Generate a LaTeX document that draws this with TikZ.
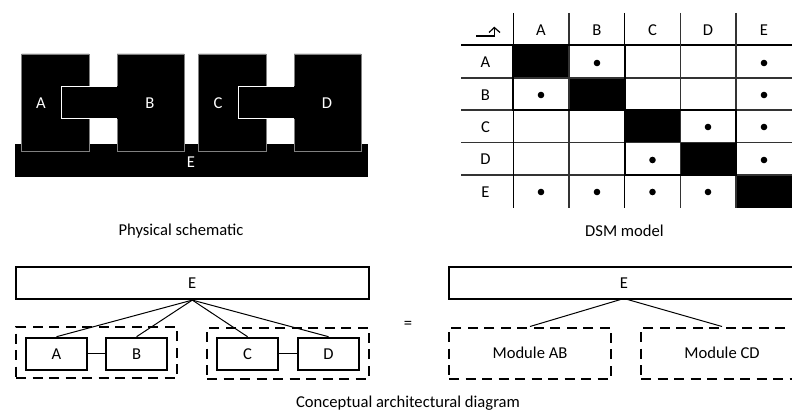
\documentclass[tikz,border=0pt]{standalone}
\usepackage{fontspec}
\setmainfont{Carlito}
\tikzset{
  txt/.style={inner sep=0pt,font=\fontsize{16.6}{19}\selectfont},
  box/.style={draw=black,line width=2.1pt,fill=white,minimum height=32pt,inner sep=0pt,font=\fontsize{16.6}{19}\selectfont,anchor=north west},
  link/.style={draw=black,line width=1pt},
  group/.style={draw=black,line width=2pt,dash pattern=on 10pt off 6.5pt,inner sep=0pt,font=\fontsize{16.6}{19}\selectfont,anchor=north west},
  edgeg/.style={draw=black!50,line width=.9pt},
  edgew/.style={draw=white,line width=.9pt},
  grid1/.style={draw=black!80,line width=1.2pt},
  grid2/.style={draw=black,line width=1.5pt},
  heavy/.style={draw=black,line width=2pt},
  captext/.style={txt},
}
\begin{document}
\begin{tikzpicture}[x=1pt,y=-1pt]
\useasboundingbox (0,0) rectangle (792,412);
% Physical schematic
\fill[black] (14.5,144) rectangle (368,177);
\fill[black] (21.5,54) -- (89,54) -- (89,86) -- (61.5,86) -- (61.5,118.5) -- (89,118.5) -- (89,151) -- (21.5,151) -- cycle;
\fill[black] (117,54) -- (184,54) -- (184,151) -- (117,151) -- (117,118.5) -- (61.5,118.5) -- (61.5,86) -- (117,86) -- cycle;
\fill[black] (198.5,54) -- (266,54) -- (266,86) -- (238.5,86) -- (238.5,118.5) -- (266,118.5) -- (266,151) -- (198.5,151) -- cycle;
\fill[black] (294,54) -- (361,54) -- (361,151) -- (294,151) -- (294,118.5) -- (238.5,118.5) -- (238.5,86) -- (294,86) -- cycle;
\draw[edgeg] (89,86) -- (89,54) -- (21.5,54) -- (21.5,151) -- (89,151) -- (89,118.5);
\draw[edgew] (89,86) -- (61.5,86) -- (61.5,118.5) -- (89,118.5);
\draw[edgew] (89,86) -- (117,86);
\draw[edgew] (89,118.5) -- (117,118.5);
\draw[edgeg] (117,86) -- (117,54) -- (184,54) -- (184,151) -- (117,151) -- (117,118.5);
\draw[edgeg] (266,86) -- (266,54) -- (198.5,54) -- (198.5,151) -- (266,151) -- (266,118.5);
\draw[edgew] (266,86) -- (238.5,86) -- (238.5,118.5) -- (266,118.5);
\draw[edgew] (266,86) -- (294,86);
\draw[edgew] (266,118.5) -- (294,118.5);
\draw[edgeg] (294,86) -- (294,54) -- (361,54) -- (361,151) -- (294,151) -- (294,118.5);
\node[txt,text=white] (pA) at (41,103) {A};
\node[txt,text=white] (pB) at (150,103) {B};
\node[txt,text=white] (pC) at (218,103) {C};
\node[txt,text=white] (pD) at (327,103) {D};
\node[txt,text=white] (pE) at (191,162.5) {E};
\node[captext] (capP) at (181,231) {Physical schematic};
% DSM
\fill[black] (513.3,45) rectangle (569,78);
\fill[black] (569,78) rectangle (624.7,110);
\fill[black] (624.7,110) rectangle (680.3,142.7);
\fill[black] (680.3,142.7) rectangle (736,175);
\fill[black] (736,175) rectangle (792,207.5);
\foreach \y in {78,110,142.7,175} \draw[grid1] (461,\y) -- (792,\y);
\draw[grid2] (461,45) -- (792,45);
\foreach \x in {569,680.3,736} \draw[grid1] (\x,13) -- (\x,207.5);
\foreach \x in {513.3,624.7} \draw[grid2] (\x,13) -- (\x,207.5);
\draw[heavy] (513.3,45) rectangle (624.7,110);
\draw[heavy] (624.7,110) rectangle (736,175);
\foreach \n/\x in {A/541,B/597,C/652.5,D/708,E/764}
  \node[txt] (col\n) at (\x,30) {\n};
\foreach \n/\y in {A/62,B/95,C/127,D/159.5,E/192}
  \node[txt] (row\n) at (485.5,\y) {\n};
\foreach \x/\y in {597/63,764/63,541/95,764/95,708/127,764/127,652.5/160,764/160,541/192,597/192,652.5/192,708/192}
  \fill[black] (\x,\y) circle (3.3pt);
\draw[line width=1.2pt] (476,36) -- (494.3,36) -- (494.3,28);
\draw[line width=1.2pt] (489,32.5) -- (494.3,27.5) -- (500,32.5);
\node[captext] (capD) at (624.5,231) {DSM model};
% Conceptual diagram, left
\node[box,minimum width=353.5pt] (E1) at (14.5,266) {E};
\node[group,minimum width=161pt,minimum height=51pt] (G1) at (15,326) {};
\node[group,minimum width=162pt,minimum height=51pt] (G2) at (206,326.5) {};
\node[box,minimum width=61pt] (A) at (25,336.7) {A};
\node[box,minimum width=61pt] (B) at (105,336.7) {B};
\node[box,minimum width=61pt] (C) at (216,336.7) {C};
\node[box,minimum width=61pt] (D) at (297,336.7) {D};
\draw[link] (E1.south) -- (A.north);
\draw[link] (E1.south) -- (B.north);
\draw[link] (E1.south) -- (C.north);
\draw[link] (E1.south) -- (D.north);
\draw[link] (A) -- (B);
\draw[link] (C) -- (D);
\node[txt] (eq) at (408,325) {=};
% Conceptual diagram, right
\begin{scope}
\clip (0,0) rectangle (792,412);
\node[box,minimum width=360pt] (E2) at (448,266) {};
\node[group,minimum width=162pt,minimum height=51pt] (M1) at (448,326.5) {Module AB};
\node[group,minimum width=162pt,minimum height=51pt] (M2) at (640,326.5) {Module CD};
\end{scope}
\node[txt] (E2t) at (624,283) {E};
\coordinate (apex) at (624,298.5);
\draw[link] (apex) -- (M1.north);
\draw[link] (apex) -- (M2.north);
\node[captext] (capC) at (408,403) {Conceptual architectural diagram};
\end{tikzpicture}
\end{document}
